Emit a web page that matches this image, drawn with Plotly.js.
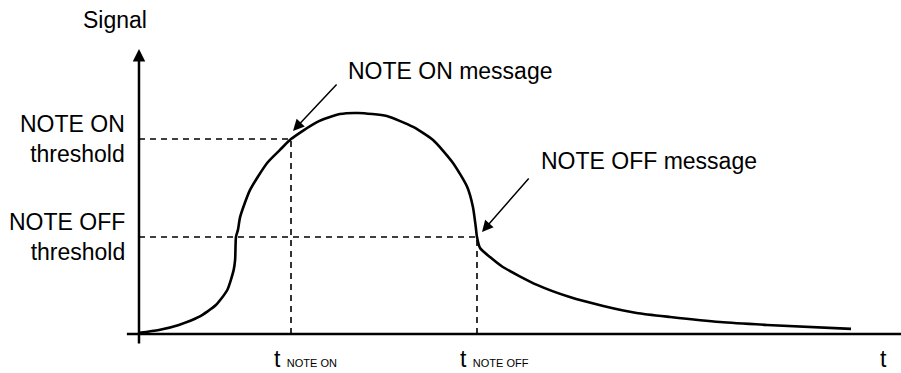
<!DOCTYPE html>
<html>
<head>
<meta charset="utf-8">
<script src="https://cdn.plot.ly/plotly-3.0.1.min.js"></script>
<style>
  html, body { margin: 0; padding: 0; background: #fff; }
  #chart { width: 901px; height: 373px; }
</style>
</head>
<body>
<div id="chart"></div>
<script>
// signal envelope (time 0..100, signal 0..100 at the peak)
const timeValues = [0, 2.8, 5.6, 8.4, 10.8, 12.4, 13.3, 13.5, 13.62, 13.9, 14.2, 15.6, 18.0, 19.8,
  21.35, 25.0, 28.2, 30.8, 34.8, 38.5, 41.3, 44.1, 46.1, 46.9, 47.3, 47.47,
  47.9, 49.3, 51.1, 55.9, 60.5, 65.2, 69.9, 74.6, 81.6, 88.2, 100];
const signalValues = [0.5, 1.8, 4.1, 7.7, 13.1, 19.9, 29.0, 33.5, 43.9, 47.1, 52.9, 65.2, 77.4, 83.3,
  88.2, 95.9, 99.5, 100, 98.6, 93.7, 87.8, 77.4, 66.5, 57.5, 48.4, 43.9,
  38.9, 34.8, 30.3, 22.2, 16.7, 12.7, 9.5, 7.7, 5.4, 4.1, 2.3];

const noteOnThreshold = 88.2;
const noteOffThreshold = 43.9;
const tNoteOn = 21.35;
const tNoteOff = 47.47;

const textFont = { family: "Liberation Sans, Arial, sans-serif", size: 23, color: "#000" };
const dashStyle = "6px,5px";

// 1) the curve
const traceSignal = {
  x: timeValues,
  y: signalValues,
  type: "scatter",
  mode: "lines",
  line: { color: "#000", width: 2.6, shape: "spline", smoothing: 0.6 },
  hoverinfo: "skip"
};

// 2) dashed guides for both thresholds
const traceOnGuide = {
  x: [0, tNoteOn, tNoteOn],
  y: [noteOnThreshold, noteOnThreshold, 0],
  type: "scatter",
  mode: "lines",
  line: { color: "#000", width: 1.6, dash: dashStyle },
  hoverinfo: "skip"
};
const traceOffGuide = {
  x: [0, tNoteOff, tNoteOff],
  y: [noteOffThreshold, noteOffThreshold, 0],
  type: "scatter",
  mode: "lines",
  line: { color: "#000", width: 1.6, dash: dashStyle },
  hoverinfo: "skip"
};

const annotations = [
  // y axis with arrow
  { x: 0, y: 129, ax: 0, ay: -5, xref: "x", yref: "y", axref: "x", ayref: "y",
    showarrow: true, arrowhead: 2, arrowsize: 1, arrowwidth: 2.5, arrowcolor: "#000", text: "" },
  { x: -3.3, y: 141.9, text: "Signal", showarrow: false, font: textFont },
  { x: 0, y: noteOnThreshold, xshift: -12, xanchor: "right", yanchor: "middle", align: "right",
    text: "NOTE ON<br>threshold", showarrow: false, font: textFont },
  { x: 0, y: noteOffThreshold, xshift: -12, xanchor: "right", yanchor: "middle", align: "right",
    text: "NOTE OFF<br>threshold", showarrow: false, font: textFont },
  // message arrows
  { x: 21.63, y: 91.9, ax: 27.95, ay: 113.6, xref: "x", yref: "y", axref: "x", ayref: "y",
    showarrow: true, arrowhead: 2, arrowsize: 1.5, arrowwidth: 1.5, arrowcolor: "#000", text: "" },
  { x: 29.07, y: 118.8, xanchor: "left", text: "NOTE ON message", showarrow: false, font: textFont },
  { x: 48.17, y: 46.2, ax: 54.92, ay: 71.0, xref: "x", yref: "y", axref: "x", ayref: "y",
    showarrow: true, arrowhead: 2, arrowsize: 1.5, arrowwidth: 1.5, arrowcolor: "#000", text: "" },
  { x: 56.18, y: 78.3, xanchor: "left", text: "NOTE OFF message", showarrow: false, font: textFont },
  // time labels, kept inside the bottom edge
  { x: tNoteOn, y: -17.6, xshift: -18, xanchor: "left", yanchor: "bottom", borderpad: 0,
    text: "t <span style='font-size:11px'>NOTE ON</span>", showarrow: false, font: textFont },
  { x: tNoteOff, y: -17.6, xshift: -18, xanchor: "left", yanchor: "bottom", borderpad: 0,
    text: "t <span style='font-size:11px'>NOTE OFF</span>", showarrow: false, font: textFont },
  { x: 104.5, y: -17.6, yanchor: "bottom", borderpad: 0, text: "t", showarrow: false, font: textFont }
];

const layout = {
  width: 901,
  height: 373,
  margin: { l: 0, r: 0, t: 0, b: 0 },
  paper_bgcolor: "#fff",
  plot_bgcolor: "#fff",
  showlegend: false,
  xaxis: { range: [-19.52, 107.02], visible: false, fixedrange: true },
  yaxis: { range: [-17.65, 151.13], visible: false, fixedrange: true },
  shapes: [
    // x axis line
    { type: "line", xref: "x", yref: "y", x0: -1.7, x1: 110, y0: 0, y1: 0,
      line: { color: "#000", width: 2.5 } }
  ],
  annotations: annotations
};

Plotly.newPlot("chart", [traceSignal, traceOnGuide, traceOffGuide], layout,
  { displayModeBar: false, staticPlot: true });
</script>
</body>
</html>
